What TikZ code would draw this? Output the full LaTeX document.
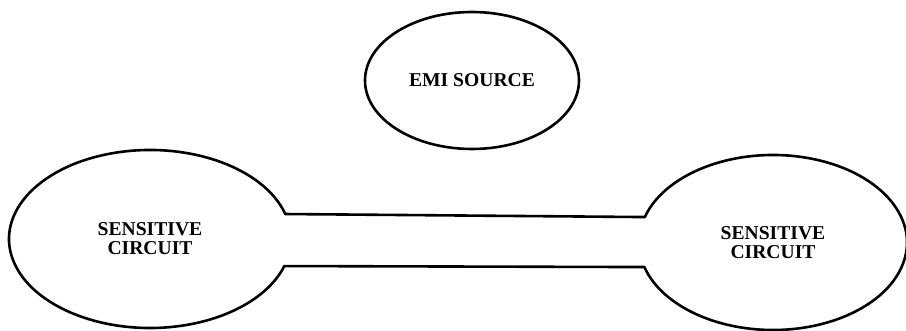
\documentclass[tikz,border=0pt]{standalone}
\usepackage{fontspec}
\setmainfont{Liberation Serif}
\usetikzlibrary{shapes.geometric,calc}

\begin{document}
\begin{tikzpicture}[x=1pt, y=1pt,
    outline/.style={line width=1.3pt, line cap=round, line join=round},
    label/.style={font=\bfseries\fontsize{9.8}{9.5}\selectfont, align=center},
    src/.style={ellipse, draw, outline, label, inner sep=0pt, minimum width=107pt, minimum height=68.5pt},
    ckt/.style={ellipse, label, inner sep=0pt}]
    \useasboundingbox (0, 0) rectangle (453, 165.5);

    % Source of interference
    \node[src] (emi) at (236, 125.25) {EMI SOURCE};

    % The two circuits
    \node[ckt, minimum width=141pt, minimum height=89pt] (lc) at (75, 46) {SENSITIVE\\CIRCUIT};
    \node[ckt, minimum width=134pt, minimum height=87.5pt] (rc) at (386.5, 44.25) {SENSITIVE\\CIRCUIT};

    % Points where the cable leaves each outline
    \coordinate (lcT) at ($(lc.center)+(16.3:70.5pt and 44.5pt)$);
    \coordinate (lcB) at ($(lc.center)+(-17.7:70.5pt and 44.5pt)$);
    \coordinate (rcT) at ($(rc.center)+(163.1:67pt and 43.75pt)$);
    \coordinate (rcB) at ($(rc.center)+(196.3:67pt and 43.75pt)$);

    % Outlines, open where the cable joins
    \draw[outline] (lcT) arc[start angle=16.3, end angle=342.3, x radius=70.5pt, y radius=44.5pt];
    \draw[outline] (rcT) arc[start angle=163.1, end angle=-163.7, x radius=67pt, y radius=43.75pt];

    % Cable between the circuits
    \draw[outline] (lcT) -- (rcT);
    \draw[outline] (lcB) -- (rcB);
\end{tikzpicture}
\end{document}
